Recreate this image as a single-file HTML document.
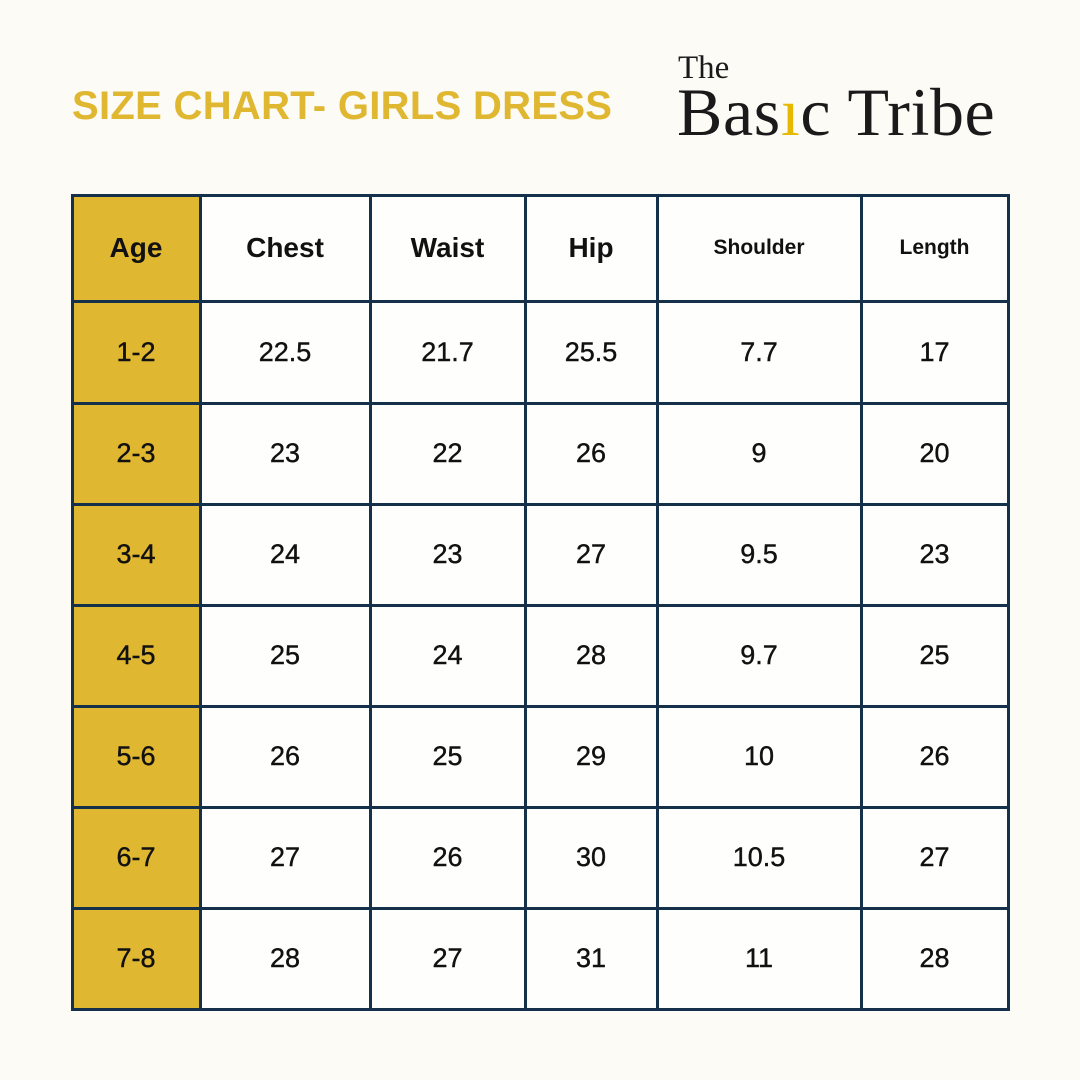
<!DOCTYPE html>
<html><head><style>
body{margin:0;width:1080px;height:1080px;background:#fcfbf6;position:relative;overflow:hidden;font-family:"Liberation Sans",sans-serif}
.title{position:absolute;left:72px;top:84px;font-size:40px;font-weight:bold;color:#e0b730;letter-spacing:0.3px}
.logo{position:absolute;font-family:"Liberation Serif",serif;color:#1a1a1a;white-space:nowrap}
.cell{position:absolute;display:flex;align-items:center;justify-content:center;font-size:27px;color:#111;-webkit-text-stroke:0.4px #111}
.h{font-weight:bold;font-size:28px;-webkit-text-stroke:0}
.line{position:absolute;background:#15304a}
</style></head><body>
<div class="title">SIZE CHART- GIRLS DRESS</div>
<div class="logo" style="left:678px;top:50px;font-size:33px">The</div>
<div class="logo" style="left:677px;top:73px;font-size:68px;letter-spacing:0.6px">Bas<span style="color:#e6b800">ı</span>c Tribe</div>
<div style="position:absolute;left:72px;top:196px;width:128px;height:812px;background:#e0b730"></div>
<div style="position:absolute;left:200px;top:196px;width:808px;height:812px;background:#fefefd"></div>
<div id="g"></div>
<script>
var xs=[72,200,370,525,657,861,1008],ys=[195,301,403,504,605,706,807,908,1009];
var s='';
xs.forEach(x=>s+='<div class="line" style="left:'+(x-1)+'px;top:194px;width:3px;height:817px"></div>');
ys.forEach(y=>s+='<div class="line" style="left:71px;top:'+(y-1)+'px;width:939px;height:3px"></div>');
var rows=[["Age","Chest","Waist","Hip","Shoulder","Length"],["1-2","22.5","21.7","25.5","7.7","17"],["2-3","23","22","26","9","20"],["3-4","24","23","27","9.5","23"],["4-5","25","24","28","9.7","25"],["5-6","26","25","29","10","26"],["6-7","27","26","30","10.5","27"],["7-8","28","27","31","11","28"]];
rows.forEach((r,i)=>r.forEach((t,j)=>{var fs=i==0?(j==4||j==5?21:28):27;
s+='<div class="cell'+(i==0?' h':'')+'" style="left:'+xs[j]+'px;top:'+ys[i]+'px;width:'+(xs[j+1]-xs[j])+'px;height:'+(ys[i+1]-ys[i])+'px;font-size:'+fs+'px">'+t+'</div>';}));
document.getElementById('g').innerHTML=s;
</script>
</body></html>
